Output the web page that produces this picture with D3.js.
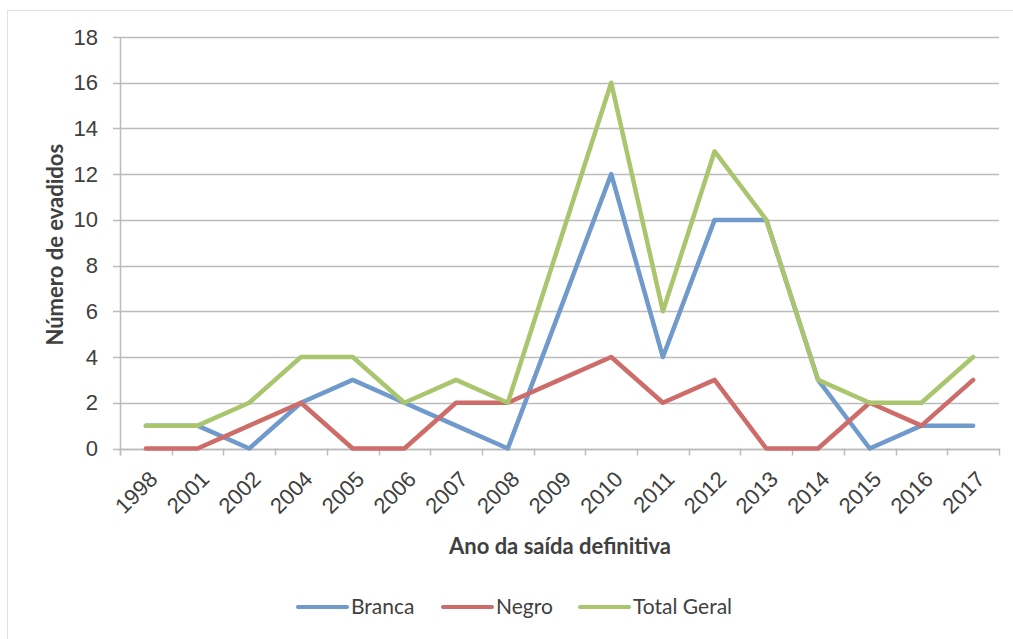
<!DOCTYPE html>
<html>
<head>
<meta charset="utf-8">
<script src="https://cdn.jsdelivr.net/npm/d3@7"></script>
<style>
  html, body { margin: 0; padding: 0; background: #fff; }
  svg { display: block; font-family: Lato, "Open Sans", sans-serif; }
</style>
</head>
<body>
<svg id="chart" width="1013" height="639"></svg>
<script>
// Anos de saída definitiva
const years = ["1998","2001","2002","2004","2005","2006","2007","2008","2009",
               "2010","2011","2012","2013","2014","2015","2016","2017"];
// Número de evadidos por grupo
const branca     = [1,1,0,2,3,2,1,0,6,12,4,10,10,3,0,1,1];
const negro      = [0,0,1,2,0,0,2,2,3,4,2,3,0,0,2,1,3];
const totalGeral = [1,1,2,4,4,2,3,2,9,16,6,13,10,3,2,2,4];
const yTicks     = [0,2,4,6,8,10,12,14,16,18];

const seriesNames  = ["Branca", "Negro", "Total Geral"];
const seriesValues = [branca, negro, totalGeral];
const seriesColors = ["#7099cc", "#cd6c69", "#a9c66f"];

const svg = d3.select("#chart");
const textColor = "#404040";
const gridColor = "#bcbcbc";

// moldura da área do gráfico
svg.append("rect")
  .attr("x", 7.5).attr("y", 10.5)
  .attr("width", 1013).attr("height", 639)
  .attr("fill", "none").attr("stroke", "#e2e2e2");

const plot = { left: 120, right: 999, top: 37, bottom: 448.5 };

const x = d3.scaleBand().domain(years).range([plot.left, plot.right]);
const y = d3.scaleLinear().domain([0, 18]).range([plot.bottom, plot.top]);

// linhas de grade horizontais
svg.append("g").selectAll("line").data(yTicks).join("line")
  .attr("x1", plot.left - 7).attr("x2", plot.right)
  .attr("y1", d => Math.round(y(d)) + 0.5).attr("y2", d => Math.round(y(d)) + 0.5)
  .attr("stroke", gridColor).attr("stroke-width", 1.5);

// eixo Y
const yAxis = svg.append("g")
  .attr("transform", `translate(${plot.left},0)`)
  .call(d3.axisLeft(y).tickValues(yTicks).tickSize(0).tickPadding(22));
yAxis.select(".domain").remove();
yAxis.selectAll("text")
  .attr("fill", textColor).style("font-size", "22px");
svg.append("line")
  .attr("x1", plot.left + 0.5).attr("x2", plot.left + 0.5)
  .attr("y1", plot.top).attr("y2", plot.bottom + 7)
  .attr("stroke", gridColor).attr("stroke-width", 1.5);

// eixo X com marcas entre categorias
const xAxis = svg.append("g")
  .attr("transform", `translate(0,${Math.round(plot.bottom) + 0.5})`)
  .call(d3.axisBottom(x).tickSize(0).tickPadding(0));
xAxis.select(".domain").remove();
xAxis.selectAll(".tick line").remove();
svg.append("line")
  .attr("x1", plot.left).attr("x2", plot.right)
  .attr("y1", Math.round(plot.bottom) + 0.5).attr("y2", Math.round(plot.bottom) + 0.5)
  .attr("stroke", gridColor).attr("stroke-width", 1.5);
const bounds = years.map(d => x(d)).concat([plot.right]);
svg.append("g").selectAll("line").data(bounds).join("line")
  .attr("x1", d => Math.round(d) + 0.5).attr("x2", d => Math.round(d) + 0.5)
  .attr("y1", plot.bottom).attr("y2", plot.bottom + 7)
  .attr("stroke", gridColor).attr("stroke-width", 1.5);
xAxis.selectAll("text")
  .attr("fill", textColor).style("font-size", "22px")
  .attr("text-anchor", "end")
  .attr("dy", null).attr("y", 0)
  .attr("transform", "translate(13,31) rotate(-45)");

// séries
const cx = d => x(d) + x.bandwidth() / 2;
const line = d3.line().x((v, i) => cx(years[i])).y(v => y(v));
seriesValues.forEach((vals, k) => {
  svg.append("path")
    .datum(vals)
    .attr("d", line)
    .attr("fill", "none")
    .attr("stroke", seriesColors[k])
    .attr("stroke-width", 4.5)
    .attr("stroke-linejoin", "round")
    .attr("stroke-linecap", "round");
});

// títulos dos eixos
svg.append("text")
  .attr("transform", `translate(63,${(plot.top + plot.bottom) / 2 + 2}) rotate(-90)`)
  .attr("text-anchor", "middle")
  .attr("fill", textColor).style("font-size", "22px").style("font-weight", "bold")
  .text("Número de evadidos");
svg.append("text")
  .attr("x", 560).attr("y", 554)
  .attr("text-anchor", "middle")
  .attr("fill", textColor).style("font-size", "22px").style("font-weight", "bold")
  .text("Ano da saída definitiva");

// legenda
const legendX = [298, 443, 580];
const legend = svg.append("g");
seriesNames.forEach((name, k) => {
  legend.append("line")
    .attr("x1", legendX[k]).attr("x2", legendX[k] + 49)
    .attr("y1", 607).attr("y2", 607)
    .attr("stroke", seriesColors[k]).attr("stroke-width", 4)
    .attr("stroke-linecap", "round");
  legend.append("text")
    .attr("x", legendX[k] + 53).attr("y", 614)
    .attr("fill", textColor).style("font-size", "21px")
    .text(name);
});
</script>
</body>
</html>
